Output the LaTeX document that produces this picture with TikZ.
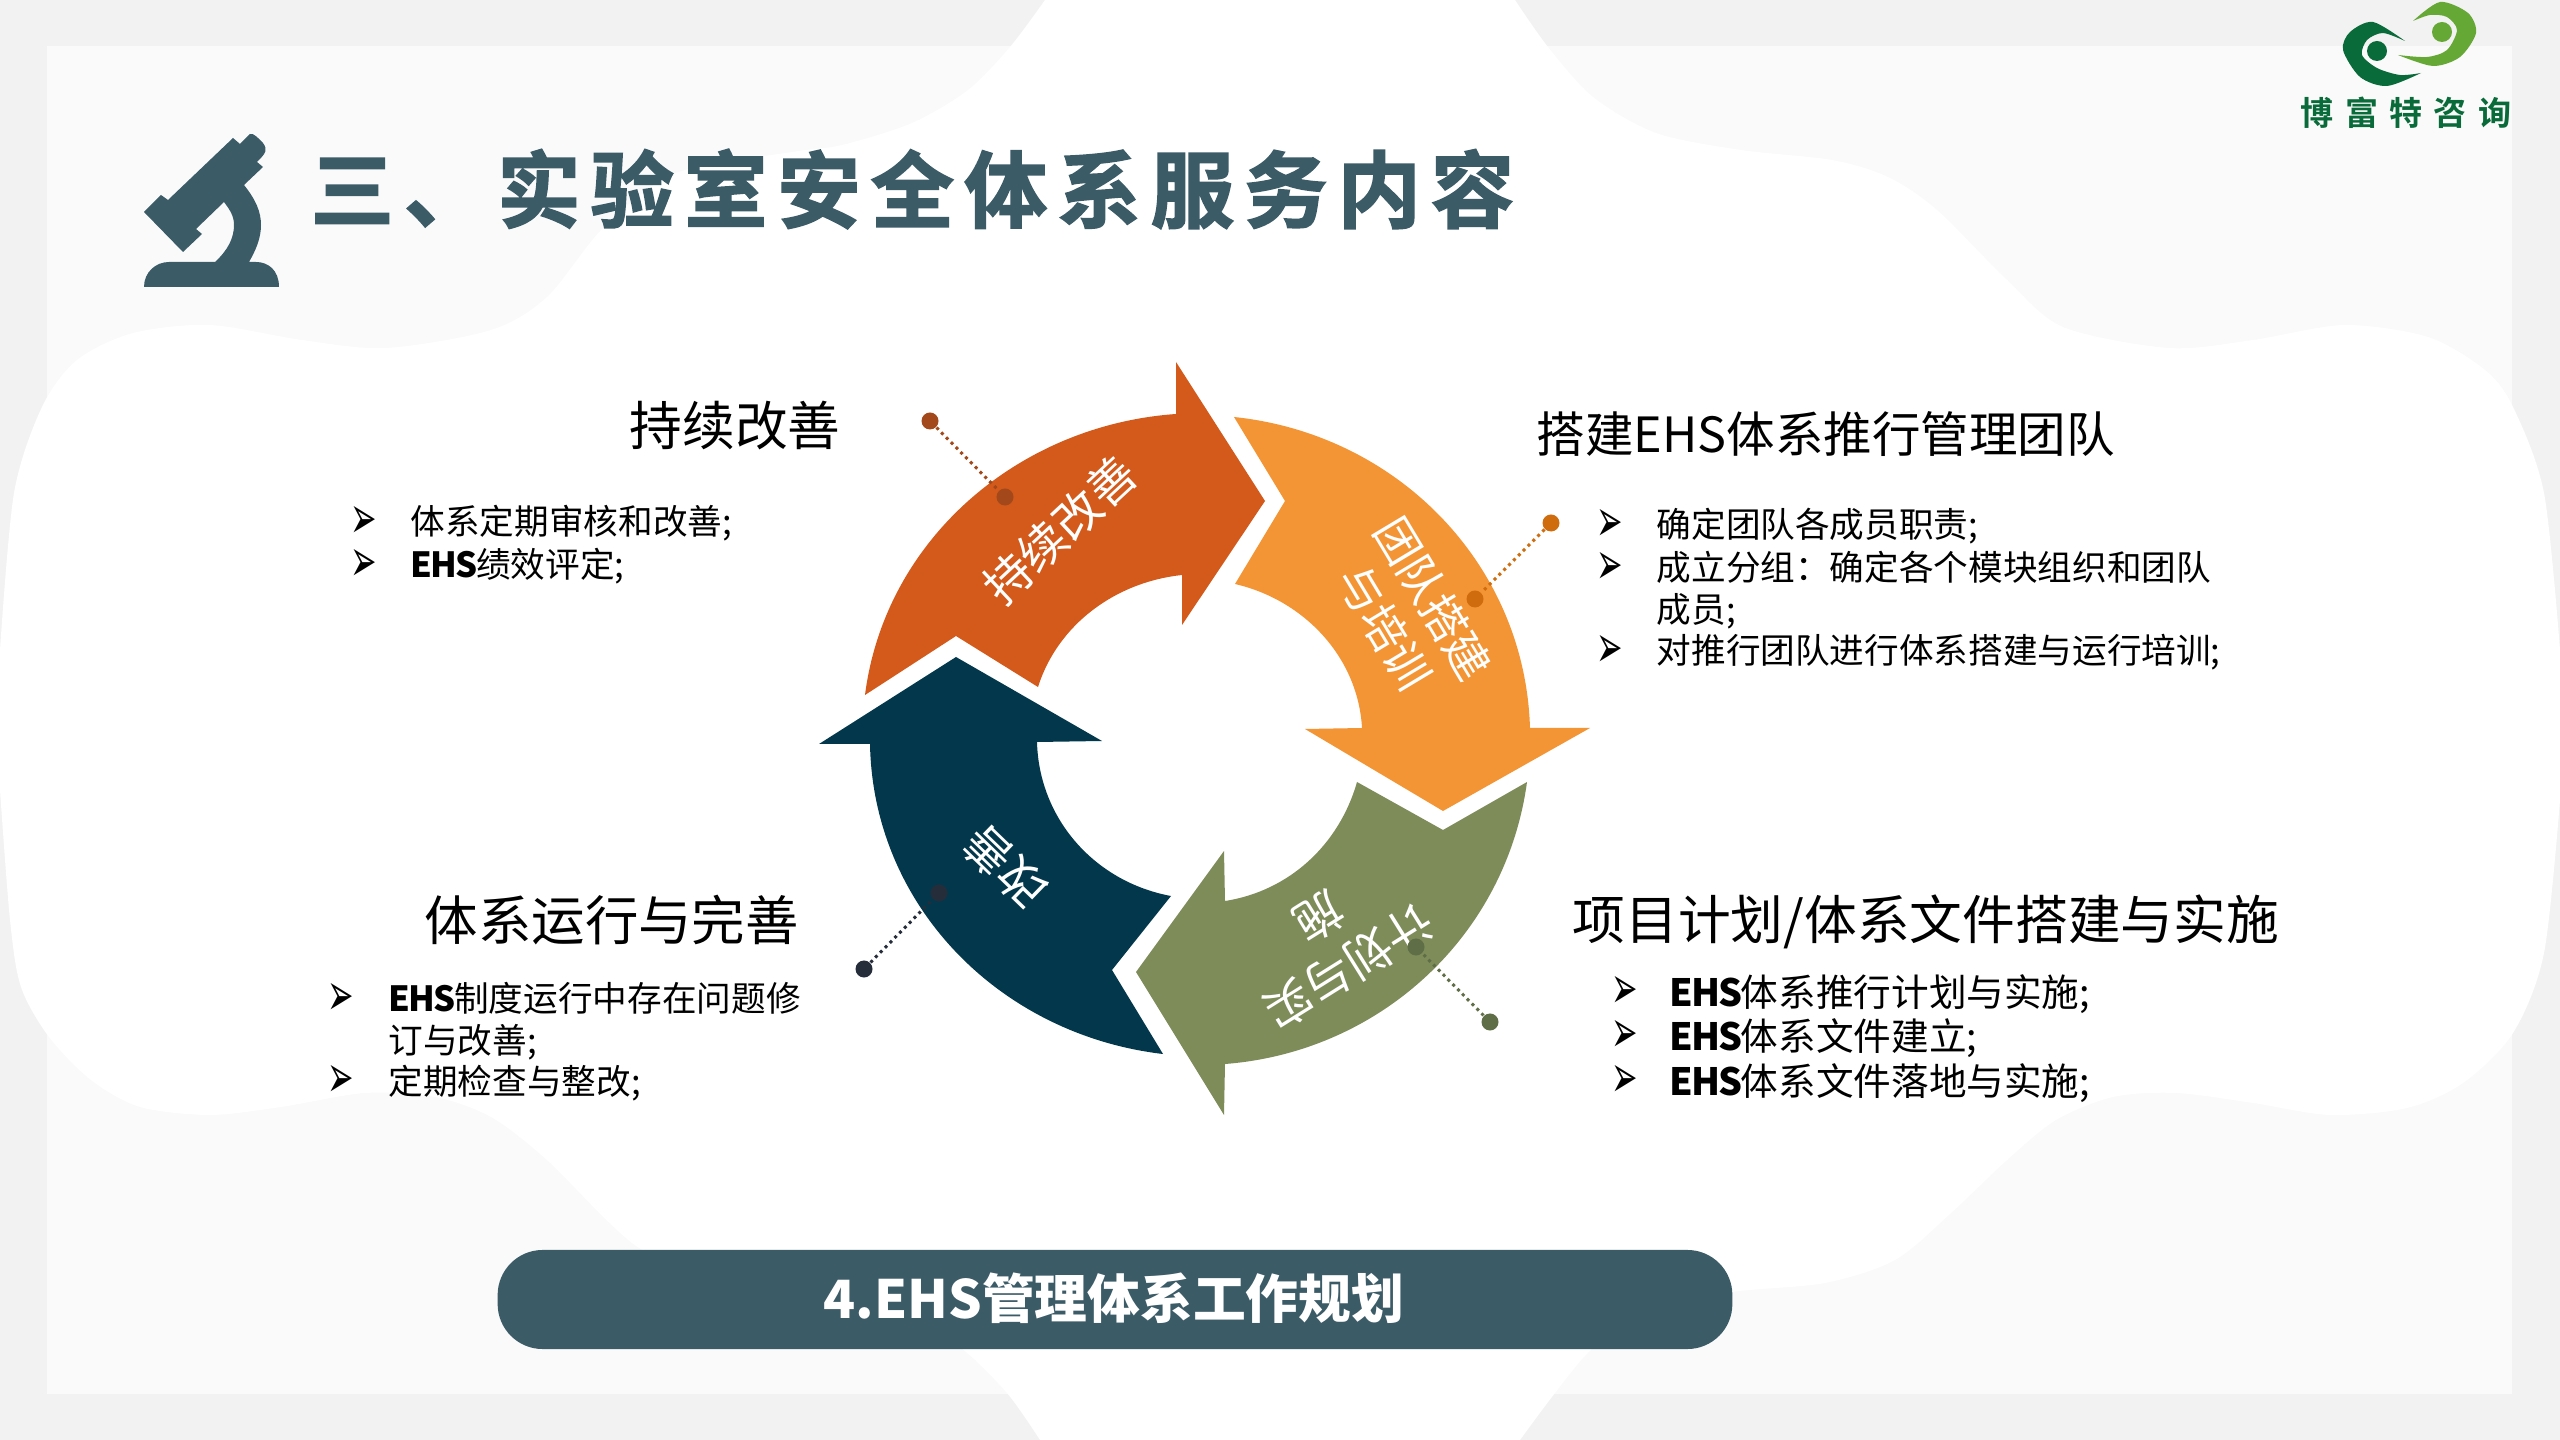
\documentclass[tikz,border=0pt]{standalone}
\usepackage{fontspec}
\usepackage{graphicx}
\setmainfont{Noto Sans CJK SC}
\newfontfamily\titlefont[LetterSpace=12,FakeBold=2]{Noto Sans CJK SC Bold}
\newfontfamily\logofont[LetterSpace=34]{Noto Sans CJK SC Bold}
\newfontfamily\markfont{DejaVu Sans}
\newcommand{\ehs}{\textbf{\addfontfeature{LetterSpace=-5}EHS}}
\newcommand{\itemarrow}{\scalebox{1}[1.9]{\markfont ➢}}
\definecolor{pagegray}{HTML}{F2F2F2}
\definecolor{panelgray}{HTML}{FAFAFA}
\definecolor{slate}{HTML}{3B5B67}
\definecolor{rust}{HTML}{D35A1A}
\definecolor{rustdark}{HTML}{A2481A}
\definecolor{amber}{HTML}{F49535}
\definecolor{amberdark}{HTML}{CF6D0E}
\definecolor{olive}{HTML}{7E8C5A}
\definecolor{olivedark}{HTML}{5F6E46}
\definecolor{navy}{HTML}{03384C}
\definecolor{navydark}{HTML}{252D3B}
\definecolor{logodark}{HTML}{0A6B3A}
\definecolor{logolight}{HTML}{66A836}
\tikzset{
  head/.style={inner sep=0pt,font=\fontsize{15}{16}\selectfont},
  itemtext/.style={inner sep=0pt,anchor=west,align=left,font=\fontsize{9.85}{11.95}\selectfont},
  itemmark/.style={inner sep=0pt,font=\fontsize{9}{10}\selectfont},
  ringlabel/.style={inner sep=0pt,text=white,align=center,font=\fontsize{13.4}{16.5}\selectfont},
  leaddot/.style={circle,inner sep=0pt,minimum size=0.17cm},
  leader/.style={line width=0.85pt,dash pattern=on 0.85pt off 1.1pt}
}
\begin{document}
\begin{tikzpicture}[x=0.01cm,y=-0.01cm]
\useasboundingbox (0,0) rectangle (2560,1440);
\clip (0,0) rectangle (2560,1440);
% background
\fill [pagegray] (0,0) rectangle (2560,1440);
\fill [panelgray] (47,46) rectangle (2512,1394);
\fill [white] plot [smooth] coordinates {(1045,0) (1010,47) (968,90) (912,123) (842,145) (792,152) (676,173) (604,227) (547,297) (491,330) (386,348) (302,340) (210,325) (133,333) (77,360) (42,407) (14,493) (0,650)}
  -- plot [smooth] coordinates {(0,790) (10,920) (21,987) (49,1037) (91,1080) (140,1107) (210,1115) (281,1107) (365,1093) (435,1097) (491,1117) (547,1160) (639,1248) (735,1283) (828,1292) (900,1310) (961,1348) (1007,1393) (1040,1440)}
  -- plot [smooth] coordinates {(1520,1440) (1555,1393) (1593,1348) (1650,1310) (1732,1292) (1825,1283) (1895,1260) (1951,1213) (2007,1160) (2056,1120) (2113,1097) (2176,1093) (2253,1103) (2330,1115) (2407,1108) (2463,1083) (2513,1033) (2544,953) (2560,800)}
  -- plot [smooth] coordinates {(2560,650) (2544,493) (2513,407) (2485,370) (2428,337) (2344,325) (2253,340) (2169,348) (2063,327) (2007,280) (1937,210) (1888,177) (1832,160) (1741,150) (1656,133) (1593,97) (1548,47) (1515,0)}
  -- cycle;
% microscope
\fill [slate] (233,138) -- (240,144) -- (250,134) .. controls (254,133) and (258,138) .. (263,143) .. controls (268,150) and (266,153) .. (257,162) -- (263,167) -- (244,185) .. controls (256,200) and (261,212) .. (261,225) .. controls (261,238) and (256,250) .. (249,262) -- (256,262) .. controls (268,262) and (279,270) .. (279,287) -- (144,287) .. controls (144,272) and (156,262) .. (169,262) -- (215,262) .. controls (228,250) and (234,238) .. (234,225) .. controls (234,216) and (230,210) .. (224,202) -- (196,229) -- (202,234) -- (183,252) -- (144,212) -- (161,195) -- (168,200) -- cycle;
\node [inner sep=0pt,anchor=west,text=slate,font=\titlefont\fontsize{23.7}{26}\selectfont] (titletext) at (310,189) {三、实验室安全体系服务内容};
% logo
\fill [logodark] plot [smooth] coordinates {(2405,41) (2373,22) (2350,32) (2343,50) (2360,77) (2387,86) (2421,73)} -- plot [smooth] coordinates {(2421,73) (2400,75) (2377,68) (2362,55) (2367,40) (2383,33) (2405,41)} -- cycle;
\fill [logolight] plot [smooth] coordinates {(2413,21) (2440,2) (2468,13) (2476,33) (2460,57) (2433,66) (2398,55)} -- plot [smooth] coordinates {(2398,55) (2427,57) (2447,50) (2457,30) (2447,17) (2430,15) (2413,21)} -- cycle;
\fill [logodark] (2377,51) circle [radius=10];
\fill [logolight] (2442,32) circle [radius=10];
\node [inner sep=0pt,text=logodark,font=\logofont\fontsize{9.4}{11}\selectfont] (logotext) at (2406,113) {博富特咨询};
% ring arrows
\fill [rust] (865,695) .. controls (885,539) and (1019,425) .. (1176,414) -- (1176,362) -- (1265,501) -- (1182,625) -- (1182,575) .. controls (1116,582) and (1058,624) .. (1038,687) -- (956,636) -- cycle;
\fill [amber] (1234,417) .. controls (1397,434) and (1525,564) .. (1530,728) -- (1590,728) -- (1443,811) -- (1305,729) -- (1362,728) .. controls (1358,657) and (1304,600) .. (1235,584) -- (1285,501) -- cycle;
\fill [olive] (1527,782) .. controls (1506,936) and (1380,1052) .. (1225,1064) -- (1224,1115) -- (1136,972) -- (1224,851) -- (1225,901) .. controls (1289,891) and (1339,845) .. (1357,782) -- (1443,830) -- cycle;
\fill [navy] (1163,1054) .. controls (1001,1035) and (873,907) .. (870,744) -- (819,744) -- (956,657) -- (1102,741) -- (1037,742) .. controls (1039,819) and (1095,882) .. (1171,896) -- (1112,970) -- cycle;
\node [ringlabel,rotate=43] (rustlabel) at (1060,530) {持续改善};
\node [ringlabel,rotate=-59,font=\fontsize{12.8}{16}\selectfont] (amberlabel) at (1409,613) {团队搭建\\与培训};
\node [ringlabel,rotate=212] (olivelabel) at (1334,942) {计划与实\\施};
\node [ringlabel,rotate=136] (navylabel) at (1005,867) {改善};
% leaders
\node [leaddot,fill=rustdark] (rustout) at (930,421) {};
\node [leaddot,fill=rustdark] (rustin) at (1005,497) {};
\draw [leader,rustdark] (rustout) -- (rustin);
\node [leaddot,fill=amberdark] (amberout) at (1551,523) {};
\node [leaddot,fill=amberdark] (amberin) at (1475,599) {};
\draw [leader,amberdark] (amberout) -- (amberin);
\node [leaddot,fill=olivedark] (oliveout) at (1490,1022) {};
\node [leaddot,fill=olivedark] (olivein) at (1416,947) {};
\draw [leader,olivedark] (oliveout) -- (olivein);
\node [leaddot,fill=navydark] (navyout) at (864,969) {};
\node [leaddot,fill=navydark] (navyin) at (939,893) {};
\draw [leader,navydark] (navyout) -- (navyin);
% upper left
\node [head] (improvehead) at (735,426) {持续改善};
\foreach \y in {522,565} {\node [itemmark] (improvemark\y) at (364,\y) {\itemarrow};}
\node [itemtext] (improvea) at (410,523) {体系定期审核和改善;};
\node [itemtext] (improveb) at (410,566) {\ehs 绩效评定;};
% upper right
\node [head,anchor=west,font=\fontsize{13.8}{16}\selectfont] (teamhead) at (1536,434) {搭建EHS体系推行管理团队};
\foreach \y in {525,568,651} {\node [itemmark] (teammark\y) at (1610,\y) {\itemarrow};}
\node [itemtext] (teama) at (1656,526) {确定团队各成员职责;};
\node [itemtext] (teamb) at (1656,590) {成立分组：确定各个模块组织和团队\\成员;};
\node [itemtext] (teamc) at (1656,652) {对推行团队进行体系搭建与运行培训;};
% lower right
\node [head,anchor=west] (planhead) at (1572,922) {项目计划/体系文件搭建与实施};
\foreach \y in {992,1036,1081} {\node [itemmark] (planmark\y) at (1625,\y) {\itemarrow};}
\node [itemtext,font=\fontsize{10.7}{12}\selectfont] (plana) at (1669,994) {\ehs 体系推行计划与实施;};
\node [itemtext,font=\fontsize{10.7}{12}\selectfont] (planb) at (1669,1038) {\ehs 体系文件建立;};
\node [itemtext,font=\fontsize{10.7}{12}\selectfont] (planc) at (1669,1083) {\ehs 体系文件落地与实施;};
% lower left
\node [head,anchor=west,font=\fontsize{15.2}{16}\selectfont] (runhead) at (424,920) {体系运行与完善};
\foreach \y in {999,1081} {\node [itemmark] (runmark\y) at (341,\y) {\itemarrow};}
\node [itemtext] (runa) at (388,1021) {\ehs 制度运行中存在问题修\\订与改善;};
\node [itemtext] (runb) at (388,1083) {定期检查与整改;};
% bottom bar
\node [fill=slate,rounded corners=0.45cm,minimum width=12.34cm,minimum height=0.99cm,inner sep=0pt] (plantab) at (1115,1299.5) {};
\node [inner sep=0pt,text=white,font=\bfseries\fontsize{15}{18}\selectfont] (plantext) at (1114,1298) {4.EHS管理体系工作规划};
\end{tikzpicture}
\end{document}
